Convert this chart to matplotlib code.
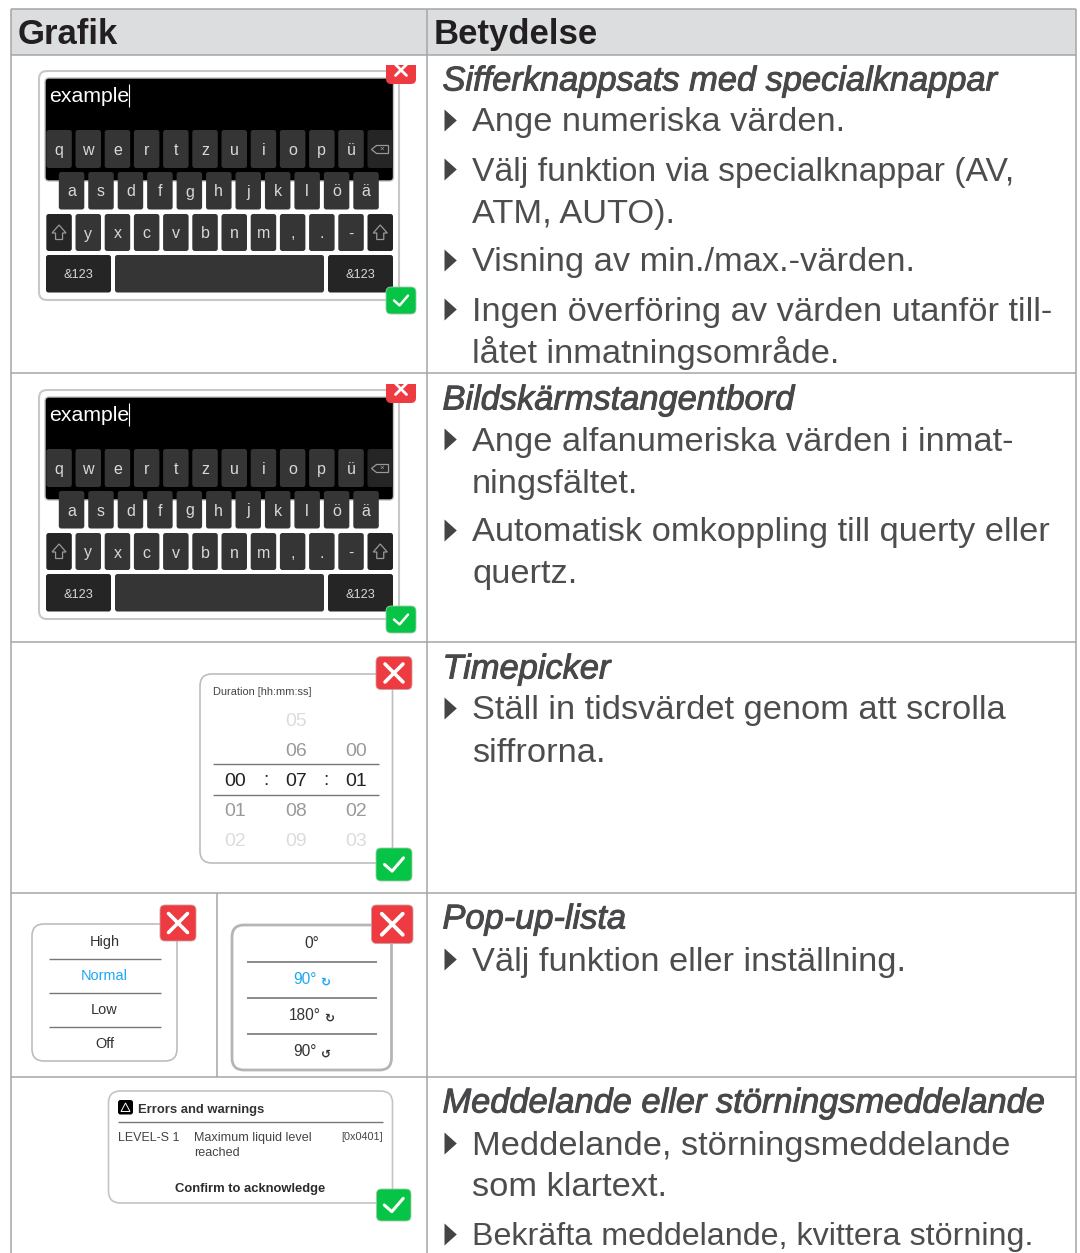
import matplotlib
matplotlib.use('Agg')
import matplotlib.pyplot as plt
from matplotlib.patches import FancyBboxPatch, Rectangle, Polygon
import matplotlib.patheffects as pe

plt.rcParams['font.family'] = ['Liberation Sans', 'DejaVu Sans']

headers = ['Grafik', 'Betydelse']
sections = [
    ('Sifferknappsats med specialknappar', 92,
     [(120, 'Ange numeriska värden.', True), (169, 'Välj funktion via specialknappar (AV,', True),
      (211, 'ATM, AUTO).', False), (260, 'Visning av min./max.-värden.', True),
      (309, 'Ingen överföring av värden utanför till-', True), (351, 'låtet inmatningsområde.', False)]),
    ('Bildskärmstangentbord', 411,
     [(439, 'Ange alfanumeriska värden i inmat-', True), (481, 'ningsfältet.', False),
      (530, 'Automatisk omkoppling till querty eller', True), (572, 'quertz.', False)]),
    ('Timepicker', 680,
     [(708, 'Ställ in tidsvärdet genom att scrolla', True), (750, 'siffrorna.', False)]),
    ('Pop-up-lista', 930, [(959, 'Välj funktion eller inställning.', True)]),
    ('Meddelande eller störningsmeddelande', 1114,
     [(1143, 'Meddelande, störningsmeddelande', True), (1185, 'som klartext.', False),
      (1234, 'Bekräfta meddelande, kvittera störning.', True)]),
]
row_lines = [55, 373, 642, 893, 1077]
kb_row1 = ['q', 'w', 'e', 'r', 't', 'z', 'u', 'i', 'o', 'p', 'ü']
kb_row2 = ['a', 's', 'd', 'f', 'g', 'h', 'j', 'k', 'l', 'ö', 'ä']
kb_row3 = ['y', 'x', 'c', 'v', 'b', 'n', 'm', ',', '.', '-']
kb_input = 'example'
kb_mode = '&123'
duration_title = 'Duration [hh:mm:ss]'
time_col1 = [(None, 0), (None, 0), ('00', 2), ('01', 1), ('02', 0)]
time_col2 = [('05', 0), ('06', 1), ('07', 2), ('08', 1), ('09', 0)]
time_col3 = [(None, 0), ('00', 1), ('01', 2), ('02', 1), ('03', 0)]
popup1 = ['High', 'Normal', 'Low', 'Off']
popup2 = ['0°', '90°', '180°', '90°']
popup2_arrows = [None, '↻', '↻', '↺']
msg_title = 'Errors and warnings'
msg_code = 'LEVEL-S 1'
msg_text = ['Maximum liquid level', 'reached']
msg_hex = '[0x0401]'
msg_confirm = 'Confirm to acknowledge'

fig = plt.figure(figsize=(10.8, 12.53), dpi=100)
ax = fig.add_axes([0, 0, 1, 1])
ax.set_xlim(0, 1080)
ax.set_ylim(1253, 0)
ax.axis('off')

PX = 0.72
GRID = '#a4a5a7'
DARK = '#231f20'
BODY = '#4d4d4f'
TITLE = '#48484a'


def T(x, y, s, px, c=DARK, ha='left', va='center', **kw):
    return ax.text(x, y, s, fontsize=px * PX, color=c, ha=ha, va=va, **kw)


def B(x, y, s, px, c=DARK, ha='left', **kw):
    return ax.text(x, y, s, fontsize=px * PX, color=c, ha=ha, va='baseline', **kw)


def box(x0, y0, x1, y1, r=3, fc='none', ec='none', lw=1.0, z=2, clip=None):
    p = FancyBboxPatch((x0 + r, y0 + r), x1 - x0 - 2 * r, y1 - y0 - 2 * r,
                       boxstyle=f'round,pad={r},rounding_size={r}', fc=fc, ec=ec, lw=lw, zorder=z)
    ax.add_patch(p)
    if clip is not None:
        p.set_clip_path(clip)
    return p


def hl(y, x0, x1, c=GRID, lw=1.1, z=1):
    ax.plot([x0, x1], [y, y], color=c, lw=lw, zorder=z, solid_capstyle='butt')


def vl(x, y0, y1, c=GRID, lw=1.1, z=1):
    ax.plot([x, x], [y0, y1], color=c, lw=lw, zorder=z, solid_capstyle='butt')


def cross(cx, cy, s, lw, clip=None):
    for d in (1, -1):
        ln, = ax.plot([cx - s, cx + s], [cy - d * s, cy + d * s], color='white', lw=lw, zorder=9,
                      solid_capstyle='round')
        if clip is not None:
            ln.set_clip_path(clip)


def red_btn(x0, y0, x1, y1, s=8, lw=2.4):
    box(x0, y0, x1, y1, r=5, fc='#ee3a41', ec='#c9a0a0', lw=0.6, z=8)
    cross((x0 + x1) / 2, (y0 + y1) / 2, s, lw)


def green_btn(x0, y0, x1, y1, s=8, lw=2.0):
    box(x0, y0, x1, y1, r=5, fc='#06c546', ec='#a0c8a8', lw=0.6, z=8)
    cx, cy = (x0 + x1) / 2, (y0 + y1) / 2
    ax.plot([cx - s, cx - s * 0.2, cx + s], [cy, cy + s * 0.7, cy - s * 0.7], color='white', lw=lw,
            zorder=9, solid_capstyle='round', solid_joinstyle='round')


# table frame
ax.add_patch(Rectangle((11, 9), 1065, 46, fc='#dcddde', ec='none', zorder=0))
for y in [8.5] + row_lines:
    hl(y, 10.5, 1076)
vl(10.5, 8.5, 1253)
vl(426.5, 8.5, 1253)
vl(1076, 8.5, 1253)
vl(216.5, 893, 1077)

B(18, 44, headers[0], 34.8, DARK, fontweight='bold')
B(434, 44, headers[1], 34.8, DARK, fontweight='bold')

# right column text: the reference squeezes a few lines a little
squeezed = {'Bekräfta meddelande, kvittera störning.': 32.3, 'Välj funktion via specialknappar (AV,': 33.8}
for title, ty, lines in sections:
    t = B(442.5, ty - 1.5, title, 34.4, TITLE, style='italic')
    t.set_path_effects([pe.withStroke(linewidth=0.7, foreground=TITLE)])
    for y, s, bullet in lines:
        B(472, y + 11.5, s, squeezed.get(s, 34.4), BODY)
        if bullet:
            ax.add_patch(Polygon([(444.5, y - 10.5), (444.5, y + 11.5), (456.8, y + 0.5)], closed=True,
                                 fc='#444446', ec='none', zorder=3))


def keyboard(dy):
    box(39, 71 + dy, 399, 300 + dy, r=8, fc='white', ec='#c8c8c8', lw=1.5, z=2)
    box(45, 78 + dy, 393.5, 181 + dy, r=4, fc='black', ec='#c0c0c0', lw=1.0, z=3)
    B(49.5, 102 + dy, kb_input, 21.3, 'white', zorder=5)
    vl(128.5, 84 + dy, 107 + dy, c='white', lw=0.8, z=5)
    kw = 25.5
    p = 29.2
    for i, k in enumerate(kb_row1):
        x = 46.3 + i * p
        box(x, 130 + dy, x + kw, 168 + dy, r=2.5, fc='#353535', z=4)
        B(x + kw / 2, 155 + dy, k, 16, '#d8d8d8', ha='center', zorder=5)
    x = 46.3 + 11 * p
    box(x, 130 + dy, x + kw, 168 + dy, r=2.5, fc='#252525', z=4)
    ax.add_patch(Polygon([(x + 4, 149.5 + dy), (x + 9, 145.5 + dy), (x + 21, 145.5 + dy),
                          (x + 21, 153.5 + dy), (x + 9, 153.5 + dy)], closed=True, fc='none',
                         ec='#999999', lw=0.9, zorder=5))
    T(x + 14.5, 149.5 + dy, '×', 8, '#aaaaaa', ha='center', zorder=6)
    for i, k in enumerate(kb_row2):
        x = 58.8 + i * 29.45
        box(x, 172 + dy, x + kw, 209.5 + dy, r=2.5, fc='#353535', z=4)
        B(x + kw / 2, 196.5 + dy, k, 16, '#d8d8d8', ha='center', zorder=5)
    for x, in ((46.3,), (367.5,)):
        box(x, 214 + dy, x + kw, 251 + dy, r=2.5, fc='#252525', z=4)
        c = x + kw / 2
        ax.add_patch(Polygon([(c, 225 + dy), (c + 7, 233 + dy), (c + 3.5, 233 + dy), (c + 3.5, 239.5 + dy),
                              (c - 3.5, 239.5 + dy), (c - 3.5, 233 + dy), (c - 7, 233 + dy)], closed=True,
                             fc='none', ec='#999999', lw=0.9, zorder=5))
    for i, k in enumerate(kb_row3):
        x = 75.5 + i * 29.2
        box(x, 214 + dy, x + kw, 251 + dy, r=2.5, fc='#353535', z=4)
        B(x + kw / 2, 238.5 + dy, k, 16, '#d8d8d8', ha='center', zorder=5)
    box(46, 255 + dy, 111, 292.5 + dy, r=2.5, fc='#252525', z=4)
    box(115, 255 + dy, 324, 292.5 + dy, r=2.5, fc='#353535', z=4)
    box(328, 255 + dy, 393, 292.5 + dy, r=2.5, fc='#252525', z=4)
    B(78.5, 278.5 + dy, kb_mode, 12.8, '#d8d8d8', ha='center', zorder=5)
    B(360.5, 278.5 + dy, kb_mode, 12.8, '#d8d8d8', ha='center', zorder=5)
    # cancel button cut by the top of the row cell
    clip = Rectangle((380, 65 + dy), 40, 40, transform=ax.transData)
    box(386, 50 + dy, 416, 84 + dy, r=5, fc='#ee3a41', z=8, clip=clip)
    cross(401, 70 + dy, 5.5, 2.0, clip=clip)
    green_btn(386, 287 + dy, 416, 314 + dy, s=7, lw=1.8)


keyboard(0)
keyboard(319)

# time picker
box(200, 674, 392.5, 863, r=12, fc='white', ec='#bdbdbd', lw=1.2)
B(213, 695, duration_title, 11, '#444444')
hl(763.5, 213, 379, c='#777777', lw=1.0, z=3)
hl(794.5, 213, 379, c='#777777', lw=1.0, z=3)
shades = {0: '#dcdcdc', 1: '#9a9a9a', 2: '#222222'}
rows_y = [726.5, 756.5, 786, 815.5, 845.5]
for cx, col in ((235, time_col1), (296, time_col2), (356, time_col3)):
    for y, (s, lev) in zip(rows_y, col):
        if s is not None:
            B(cx, y, s, 19.5, shades[lev], ha='center', zorder=4)
B(265.5, 785, ':', 19, '#222222', ha='center', zorder=4)
B(326, 785, ':', 19, '#222222', ha='center', zorder=4)
red_btn(376, 656.5, 412, 689.5, s=9, lw=2.6)
green_btn(376, 848, 412, 881, s=9.5, lw=2.2)

# pop-up 1
box(32, 924, 177, 1061, r=12, fc='white', ec='#bdbdbd', lw=1.2)
for y, s in zip((946, 980, 1014, 1048), popup1):
    B(104.5, y, s, 14.5, '#1ea7f2' if s == 'Normal' else '#333333', ha='center', zorder=4)
for y in (958.5, 992.5, 1026.5):
    hl(y, 49, 160.5, c='#777777', lw=1.0, z=3)
red_btn(160, 905, 196, 941, s=9.5, lw=2.6)

# pop-up 2
box(232, 925, 391.5, 1070, r=12, fc='white', ec='#b5b5b5', lw=2.0)
for y, s, a, cx, ax_ in zip((948.5, 984.5, 1020.5, 1056.5), popup2, popup2_arrows,
                            (311.5, 304.5, 305, 304.5), (None, 325.5, 329.5, 325.5)):
    col = '#1ea7f2' if y == 984.5 else '#333333'
    B(cx, y, s, 15.5, col, ha='center', zorder=4)
    if a is not None:
        B(ax_, y + 1, a, 12, col, ha='center', fontweight='bold', zorder=4)
for y in (962, 998, 1034):
    hl(y, 246.5, 377, c='#777777', lw=1.2, z=3)
red_btn(371.5, 905, 413, 943.5, s=10.5, lw=2.8)

# message box
box(108.5, 1091, 392.5, 1203, r=12, fc='white', ec='#c4c4c4', lw=1.2)
box(118, 1100, 133, 1114.5, r=2.5, fc='black', z=4)
ax.add_patch(Polygon([(125.5, 1103), (130, 1111.5), (121, 1111.5)], closed=True, fc='none', ec='white',
                     lw=0.7, zorder=5))
B(138.5, 1112.5, msg_title, 13, '#333333', fontweight='bold', zorder=4)
hl(1121.5, 118, 383, c='#777777', lw=1.0, z=3)
B(118, 1141, msg_code, 12.5, '#444444', zorder=4)
B(194.5, 1141, msg_text[0], 12.6, '#444444', zorder=4)
B(194.5, 1156.5, msg_text[1], 12.6, '#444444', zorder=4)
B(382.5, 1139.5, msg_hex, 10.9, '#444444', ha='right', zorder=4)
B(250.5, 1192, msg_confirm, 13, '#2b2b2b', ha='center', fontweight='bold', zorder=4)
green_btn(376.5, 1189, 411, 1221, s=9.5, lw=2.2)

fig.savefig('out.png', dpi=100, facecolor='white')
